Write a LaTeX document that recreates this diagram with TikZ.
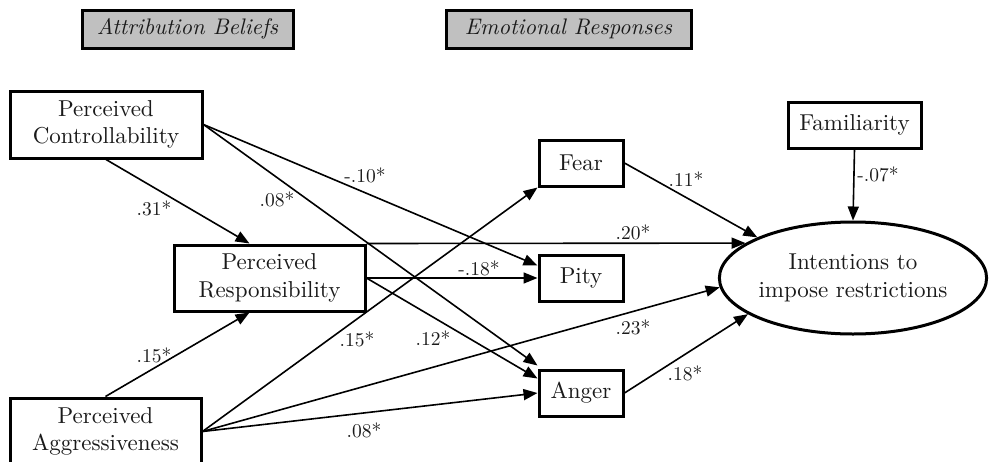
\documentclass[tikz,border=0pt]{standalone}
\usepackage{fontspec}
\setmainfont{lmroman10}[Extension=.otf,UprightFont=*-regular,ItalicFont=*-italic,BoldFont=*-bold]
\usetikzlibrary{arrows.meta,shapes.geometric}
\definecolor{txt}{HTML}{1A1A1A}
\definecolor{hdrgray}{HTML}{C0C0C0}
\begin{document}
\begin{tikzpicture}[x=1pt,y=-1pt,
 box/.style={draw,line width=3pt,fill=white,inner sep=0pt,align=center,font=\fontsize{23}{27.5}\selectfont,text=txt},
 hdr/.style={draw,line width=3pt,fill=hdrgray,inner sep=0pt,font=\fontsize{22.5}{26}\selectfont\itshape,text=txt},
 conn/.style={line width=1.6pt,-{Triangle[length=14pt,width=11pt]}},
 lbl/.style={inner sep=0pt,font=\fontsize{19.5}{22}\selectfont,text=txt}]
\useasboundingbox (0,0) rectangle (989,461);
\clip (0,0) rectangle (989,461);
% headers
\node[hdr,minimum width=211pt,minimum height=38pt] (hb) at (187.5,29) {Attribution Beliefs};
\node[hdr,minimum width=245pt,minimum height=38pt] (he) at (568.5,29) {Emotional Responses};
% boxes
\node[box,minimum width=192pt,minimum height=67pt] (ctrl) at (106,124.5) {Perceived\\Controllability};
\node[box,minimum width=191pt,minimum height=66pt] (resp) at (269.5,278) {Perceived\\Responsibility};
\node[box,minimum width=191pt,minimum height=67pt] (aggr) at (105.5,431.5) {Perceived\\Aggressiveness};
\node[box,minimum width=84pt,minimum height=46pt] (fear) at (581,163) {Fear};
\node[box,minimum width=84pt,minimum height=46pt] (pity) at (581,278) {Pity};
\node[box,minimum width=84pt,minimum height=46pt] (anger) at (581,393) {Anger};
\node[box,minimum width=133pt,minimum height=46pt] (fam) at (854.5,125) {Familiarity};
\node[box,ellipse,minimum width=264pt,minimum height=112pt] (ell) at (853,278) {Intentions to\\impose restrictions};
% connectors
\draw[conn] (ctrl.south) -- ([xshift=-20pt]resp.north);
\draw[conn] (aggr.north) -- ([xshift=-20pt]resp.south);
\draw[conn] (ctrl.east) -- ([yshift=-12pt]pity.north west);
\draw[conn] (ctrl.east) -- ([yshift=3pt]anger.north west);
\draw[conn] (resp.east) -- ([yshift=-10pt]anger.north west);
\draw[conn] (resp.east) -- (pity.west);
\draw[conn] (resp.north east) -- (ell.162);
\draw[conn] (aggr.east) -- (fear.south west);
\draw[conn] (aggr.east) -- (ell.184);
\draw[conn] (aggr.east) -- (anger.west);
\draw[conn] (fear.east) -- (ell.157);
\draw[conn] (anger.east) -- (ell.199);
\draw[conn] (fam.south) -- (ell.north);
% labels
\node[lbl] (l31) at (154,208) {.31*};
\node[lbl] (l08a) at (277,199) {.08*};
\node[lbl] (l10) at (365,175) {-.10*};
\node[lbl] (l18a) at (479,268) {-.18*};
\node[lbl] (l20) at (633,232) {.20*};
\node[lbl] (l11) at (686,179) {.11*};
\node[lbl] (l07) at (878,174) {-.07*};
\node[lbl] (l15a) at (154,355) {.15*};
\node[lbl] (l15b) at (357,339) {.15*};
\node[lbl] (l12) at (433,338) {.12*};
\node[lbl] (l23) at (633,327) {.23*};
\node[lbl] (l18b) at (685,373) {.18*};
\node[lbl] (l08b) at (364,430) {.08*};
\end{tikzpicture}
\end{document}
